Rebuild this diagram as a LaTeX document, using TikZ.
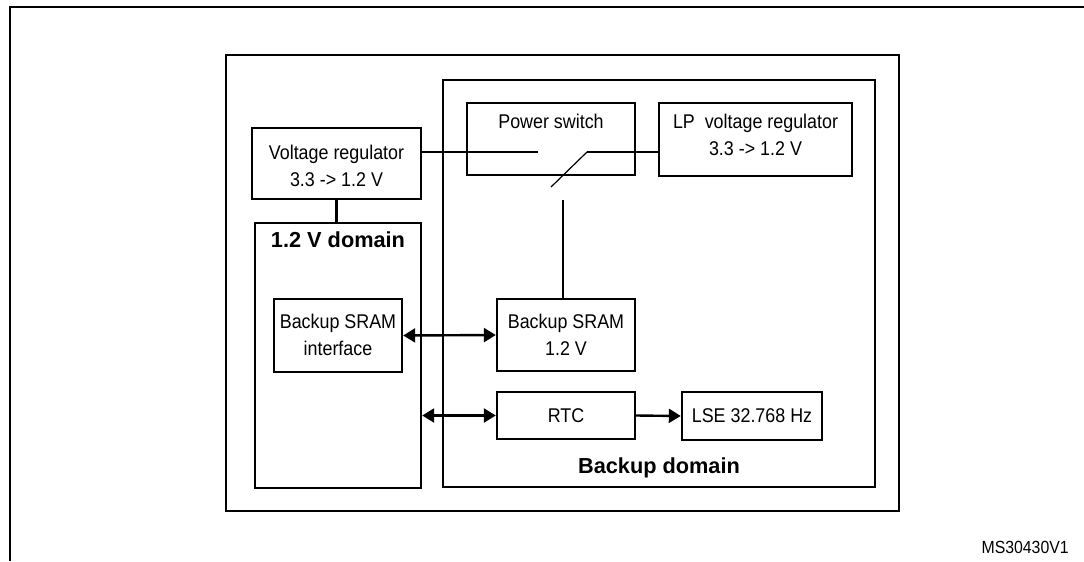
\documentclass[tikz,border=0pt]{standalone}
\usepackage{fontspec}
\setmainfont{Liberation Sans}[FakeStretch=0.9]
\newfontfamily\bdfont{Liberation Sans}
\usetikzlibrary{fit,arrows.meta}
\begin{document}
\begin{tikzpicture}[x=0.75pt,y=-0.75pt,
  frame/.style={draw, line width=2.2pt},
  box/.style={draw, line width=1.8pt, inner sep=0pt},
  lbl/.style={font=\fontsize{14.9}{20.3}\selectfont, align=center, inner sep=0pt},
  bold/.style={font=\bdfont\bfseries\fontsize{16.3}{19}\selectfont, inner sep=0pt},
  wire/.style={line width=1.8pt},
  biarrow/.style={line width=1.8pt, {Triangle[length=9pt,width=10.5pt]}-{Triangle[length=9pt,width=10.5pt]}},
  onearrow/.style={line width=1.8pt, -{Triangle[length=9pt,width=10.5pt]}}]
\useasboundingbox (0,0) rectangle (1084,561);
% outer frame (open on right and bottom)
\draw[frame] (10,561) -- (10,7) -- (1084,7);
% chip and domains
\node[box, frame, fit={(226,55)(899,511)}] (chip) {};
\node[box, fit={(443,80)(875,487)}] (bkd) {};
\node[box, fit={(255,223)(421,488)}] (dom) {};
% blocks
\node[box, fit={(252,128)(421,199)}] (vr) {};
\node[box, fit={(467,103)(635,175)}] (psw) {};
\node[box, fit={(659,103)(852,176)}] (lpr) {};
\node[box, fit={(274,299)(402,372)}] (sif) {};
\node[box, fit={(497,299)(635,371)}] (sram) {};
\node[box, fit={(497,392)(635,439)}] (rtc) {};
\node[box, fit={(682,392)(822,440)}] (lse) {};
% texts
\node[lbl] (vrt) at (336.5,166) {Voltage regulator\\3.3 -> 1.2 V};
\node[lbl] (pswt) at (551,121) {Power switch};
\node[lbl] (lprt) at (755.5,135) {LP\ \ voltage regulator\\3.3 -> 1.2 V};
\node[lbl] (sift) at (338,335) {Backup SRAM\\interface};
\node[lbl] (sramt) at (566,335) {Backup SRAM\\1.2 V};
\node[lbl] (rtct) at (566,415.5) {RTC};
\node[lbl] (lset) at (752,416) {LSE 32.768 Hz};
\node[bold] (domt) at (338,240) {1.2 V domain};
\node[bold] (bkdt) at (659,468) {Backup domain};
\node[lbl, font=\fontsize{13.2}{15}\selectfont, anchor=east] (ms) at (1069,547) {MS30430V1};
% switch
\coordinate (s1) at (538,152);
\coordinate (s2) at (587,152);
\coordinate (s3) at (551,187);
\coordinate (s4) at (563,200);
\draw[wire] (vr.east |- s1) -- (s1);
\draw[wire] (s2) -- (lpr.west |- s2);
\draw[line width=0.9pt] (s2) -- (s3);
\draw[wire] (s4) -- (s4 |- sram.north);
% connections
\draw[wire] (vr.south) -- (vr.south |- dom.north);
\draw[biarrow] (sif.east) -- (sram.west);
\draw[biarrow] (dom.east |- rtc.west) -- (rtc.west);
\draw[onearrow] (rtc.east) -- (lse.west);
\end{tikzpicture}
\end{document}
